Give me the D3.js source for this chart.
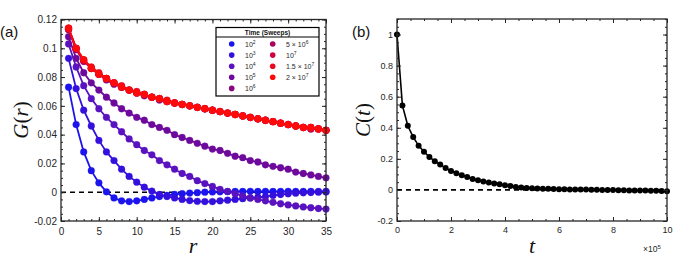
<!DOCTYPE html>
<html>
<head>
<meta charset="utf-8">
<script src="https://cdn.jsdelivr.net/npm/d3@7"></script>
<style>
  body { margin: 0; background: #fff; }
  svg { display: block; }
  .tick text { fill: #262626; font-family: "Liberation Sans", Arial, sans-serif; }
</style>
</head>
<body>
<script>
// ---- data ----
var rVals = [1,2,3,4,5,6,7,8,9,10,11,12,13,14,15,16,17,18,19,20,21,22,23,24,25,26,27,28,29,30,31,32,33,34,35];

var g1e2 = [0.073,0.047,0.028,0.015,0.0065,0.0003,-0.004,-0.006,-0.0065,-0.006,-0.005,-0.004,-0.003,-0.0022,-0.0015,-0.001,-0.0006,-0.0003,0,0.0002,0.0003,0.0004,0.0005,0.0005,0.0006,0.0005,0.0006,0.0005,0.0005,0.0006,0.0005,0.0005,0.0006,0.0005,0.0005];
var g1e3 = [0.093,0.072,0.057,0.046,0.036,0.028,0.022,0.016,0.011,0.007,0.0035,0.0008,-0.0015,-0.003,-0.004,-0.005,-0.0058,-0.0063,-0.0065,-0.0065,-0.006,-0.0055,-0.005,-0.0045,-0.004,-0.0035,-0.003,-0.0022,-0.0016,-0.0011,-0.0007,-0.0004,-0.0002,0,0.0002];
var g1e4 = [0.103,0.087,0.074,0.065,0.058,0.052,0.047,0.042,0.037,0.033,0.029,0.026,0.022,0.019,0.016,0.013,0.011,0.008,0.006,0.004,0.002,0.0005,-0.001,-0.0025,-0.004,-0.005,-0.006,-0.007,-0.008,-0.0088,-0.0095,-0.0102,-0.0108,-0.0113,-0.0117];
var g1e5 = [0.108,0.093,0.083,0.076,0.071,0.066,0.062,0.058,0.055,0.052,0.050,0.047,0.045,0.043,0.040,0.038,0.036,0.034,0.032,0.030,0.029,0.027,0.025,0.024,0.022,0.021,0.019,0.018,0.017,0.016,0.014,0.013,0.012,0.011,0.010];
var g1e6 = [0.113,0.099,0.091,0.086,0.082,0.078,0.075,0.073,0.071,0.069,0.067,0.066,0.064,0.063,0.062,0.061,0.060,0.059,0.058,0.057,0.056,0.055,0.054,0.053,0.052,0.051,0.050,0.049,0.048,0.047,0.046,0.045,0.044,0.044,0.043];
var g5e6 = [0.113,0.100,0.091,0.086,0.082,0.079,0.076,0.073,0.071,0.069,0.068,0.066,0.065,0.063,0.062,0.061,0.060,0.059,0.058,0.057,0.056,0.055,0.054,0.053,0.052,0.051,0.050,0.049,0.048,0.047,0.046,0.045,0.045,0.044,0.043];
var g1e7 = [0.114,0.100,0.092,0.086,0.082,0.079,0.076,0.073,0.071,0.069,0.068,0.066,0.065,0.063,0.062,0.061,0.060,0.059,0.058,0.057,0.056,0.055,0.054,0.053,0.052,0.051,0.050,0.049,0.048,0.047,0.046,0.045,0.044,0.044,0.043];
var g15e7 = [0.114,0.100,0.092,0.087,0.083,0.079,0.076,0.074,0.071,0.070,0.068,0.066,0.065,0.064,0.062,0.061,0.060,0.059,0.058,0.057,0.056,0.055,0.054,0.053,0.052,0.051,0.050,0.049,0.048,0.047,0.046,0.045,0.045,0.044,0.043];
var g2e7 = [0.114,0.100,0.092,0.086,0.082,0.079,0.076,0.073,0.071,0.069,0.068,0.066,0.065,0.063,0.062,0.061,0.060,0.059,0.058,0.057,0.056,0.055,0.054,0.053,0.052,0.051,0.050,0.049,0.048,0.047,0.046,0.045,0.045,0.044,0.043];

// t grid in units of 1e5 sweeps (sampling positions)
var tVals = d3.range(0, 10.001, 0.2);
var cVals = [1,0.544,0.413,0.34,0.285,0.246,0.212,0.184,0.163,0.141,0.122,0.107,0.094,0.083,0.071,0.062,0.054,0.047,0.041,0.036,0.030,0.026,0.019,0.015,0.013,0.011,0.009,0.008,0.007,0.006,0.004,0.004,0.003,0.003,0.002,0.002,0.001,0.001,0,0,-0.001,-0.002,-0.002,-0.003,-0.003,-0.004,-0.004,-0.005,-0.006,-0.007,-0.008];

var leftYTicks = [-0.02,0,0.02,0.04,0.06,0.08,0.1,0.12];
var leftXTicks = [0,5,10,15,20,25,30,35];
var rightYTicks = [-0.2,0,0.2,0.4,0.6,0.8,1];
var rightXTicks = [0,2,4,6,8,10];

var allG = [g1e2,g1e3,g1e4,g1e5,g1e6,g5e6,g1e7,g15e7,g2e7];
var colors = ["#1c14ec","#3510dc","#5a12c0","#6d0a9c","#880880","#a8065e","#cc0440","#e80a1e","#ff0a0a"];

var svg = d3.select("body").append("svg").attr("width", 700).attr("height", 263);

// boxed axes, ticks pointing inward on all four sides
function boxAxes(g, x, y, xt, yt, xMinor, yMinor, fs, xPad, yPad) {
  var x0 = x.range()[0], x1 = x.range()[1], y0 = y.range()[0], y1 = y.range()[1];
  var ink = "#262626";
  var parts = [
    [d3.axisBottom(x).tickValues(xt).tickSizeInner(-4).tickPadding(xPad), "translate(0," + y0 + ")"],
    [d3.axisBottom(x).tickValues(xMinor).tickSizeInner(-2).tickFormat(""), "translate(0," + y0 + ")"],
    [d3.axisTop(x).tickValues(xt).tickSizeInner(-4).tickFormat(""), "translate(0," + y1 + ")"],
    [d3.axisTop(x).tickValues(xMinor).tickSizeInner(-2).tickFormat(""), "translate(0," + y1 + ")"],
    [d3.axisLeft(y).tickValues(yt).tickSizeInner(-4).tickPadding(yPad).tickFormat(function(d) { return String(d); }), "translate(" + x0 + ",0)"],
    [d3.axisLeft(y).tickValues(yMinor).tickSizeInner(-2).tickFormat(""), "translate(" + x0 + ",0)"],
    [d3.axisRight(y).tickValues(yt).tickSizeInner(-4).tickFormat(""), "translate(" + x1 + ",0)"],
    [d3.axisRight(y).tickValues(yMinor).tickSizeInner(-2).tickFormat(""), "translate(" + x1 + ",0)"]
  ];
  parts.forEach(function(p) {
    var a = g.append("g").attr("transform", p[1]).call(p[0].tickSizeOuter(0));
    a.select(".domain").remove();
    a.selectAll("line").attr("stroke", ink).attr("stroke-width", 1);
    a.selectAll("text").attr("font-size", fs).attr("fill", ink);
  });
  g.append("rect").attr("x", x0).attr("y", y1).attr("width", x1 - x0).attr("height", y0 - y1)
    .attr("fill", "none").attr("stroke", ink).attr("stroke-width", 1.3);
}

// ---------------- panel (a) ----------------
var xa = d3.scaleLinear().domain([0, 35]).range([61, 326]);
var ya = d3.scaleLinear().domain([-0.02, 0.12]).range([221, 19.5]);
var ga = svg.append("g");

ga.append("line").attr("x1", xa(0)).attr("x2", xa(35)).attr("y1", ya(0)).attr("y2", ya(0))
  .attr("stroke", "#000").attr("stroke-width", 1.6).attr("stroke-dasharray", "5,4");

var lineA = d3.line().x(function(d, i) { return xa(rVals[i]); }).y(function(d) { return ya(d); });

allG.forEach(function(s, k) {
  ga.append("path").attr("d", lineA(s)).attr("fill", "none")
    .attr("stroke", colors[k]).attr("stroke-width", 1.8);
  ga.selectAll(null).data(s).enter().append("circle")
    .attr("cx", function(d, i) { return xa(rVals[i]); })
    .attr("cy", function(d) { return ya(d); })
    .attr("r", 3.4).attr("fill", colors[k]).attr("stroke", colors[k])
    .attr("stroke-opacity", 0.4).attr("stroke-width", 0.8);
});

boxAxes(ga, xa, ya, leftXTicks, leftYTicks,
  d3.range(0, 35.01, 1), d3.range(-0.02, 0.1201, 0.005).map(function(v) { return +v.toFixed(3); }),
  10, 7, 4);

// legend
var lg = ga.append("g");
lg.append("rect").attr("x", 216).attr("y", 27.5).attr("width", 103).attr("height", 68.5)
  .attr("fill", "#fff").attr("stroke", "#000").attr("stroke-width", 1.2);
lg.append("line").attr("x1", 216).attr("x2", 319).attr("y1", 37).attr("y2", 37)
  .attr("stroke", "#000").attr("stroke-width", 1.2);
lg.append("text").attr("x", 267.5).attr("y", 34.8).attr("text-anchor", "middle")
  .attr("font-family", "Liberation Sans, Arial, sans-serif").attr("font-size", 6.5).attr("font-weight", "bold")
  .attr("fill", "#111").text("Time (Sweeps)");

var legendLabels = [["", "10", "2"], ["", "10", "3"], ["", "10", "4"], ["", "10", "5"], ["", "10", "6"],
                    ["5 \u00d7 ", "10", "6"], ["", "10", "7"], ["1.5 \u00d7 ", "10", "7"], ["2 \u00d7 ", "10", "7"]];
legendLabels.forEach(function(lab, k) {
  var col = k < 5 ? 0 : 1, row = k < 5 ? k : k - 5;
  var cx = col === 0 ? 231.7 : 272.7, tx = col === 0 ? 245 : 286;
  var cy = 44 + row * 11.1;
  lg.append("circle").attr("cx", cx).attr("cy", cy).attr("r", 2.8).attr("fill", colors[k]);
  var t = lg.append("text").attr("x", tx).attr("y", cy + 2.6)
    .attr("font-family", "Liberation Sans, Arial, sans-serif").attr("font-size", 7).attr("fill", "#262626");
  t.append("tspan").text(lab[0] + lab[1]);
  t.append("tspan").attr("dy", -3).attr("font-size", 5).text(lab[2]);
});

// labels (a)
svg.append("text").attr("x", 0).attr("y", 37).attr("font-family", "Liberation Sans, Arial, sans-serif")
  .attr("font-size", 15).attr("fill", "#111").text("(a)");
var gl = svg.append("text").attr("transform", "translate(28,120) rotate(-90)").attr("text-anchor", "middle")
  .attr("font-family", "Liberation Serif, Times New Roman, serif").attr("font-size", 21).attr("fill", "#111");
gl.append("tspan").attr("font-style", "italic").text("G");
gl.append("tspan").text("(");
gl.append("tspan").attr("font-style", "italic").text("r");
gl.append("tspan").text(")");
svg.append("text").attr("x", 193).attr("y", 253).attr("text-anchor", "middle")
  .attr("font-family", "Liberation Serif, Times New Roman, serif").attr("font-style", "italic")
  .attr("font-size", 22).attr("fill", "#111").text("r");

// ---------------- panel (b) ----------------
var xb = d3.scaleLinear().domain([0, 10]).range([397, 667]);
var yb = d3.scaleLinear().domain([-0.2, 1.1]).range([221, 19]);
var gb = svg.append("g");

gb.append("line").attr("x1", xb(0)).attr("x2", xb(10)).attr("y1", yb(0)).attr("y2", yb(0))
  .attr("stroke", "#000").attr("stroke-width", 1.6).attr("stroke-dasharray", "5,4");

var lineB = d3.line().x(function(d, i) { return xb(tVals[i]); }).y(function(d) { return yb(d); });
gb.append("path").attr("d", lineB(cVals)).attr("fill", "none").attr("stroke", "#000").attr("stroke-width", 1.6);
gb.selectAll(null).data(cVals).enter().append("circle")
  .attr("cx", function(d, i) { return xb(tVals[i]); })
  .attr("cy", function(d) { return yb(d); })
  .attr("r", 3).attr("fill", "#000");

boxAxes(gb, xb, yb, rightXTicks, rightYTicks,
  d3.range(0, 10.01, 0.5), d3.range(-0.2, 1.101, 0.05).map(function(v) { return +v.toFixed(2); }),
  9, 6, 4);

svg.append("text").attr("x", 352).attr("y", 37).attr("font-family", "Liberation Sans, Arial, sans-serif")
  .attr("font-size", 15).attr("fill", "#111").text("(b)");
var cl = svg.append("text").attr("transform", "translate(370,120) rotate(-90)").attr("text-anchor", "middle")
  .attr("font-family", "Liberation Serif, Times New Roman, serif").attr("font-size", 21).attr("fill", "#111");
cl.append("tspan").attr("font-style", "italic").text("C");
cl.append("tspan").text("(");
cl.append("tspan").attr("font-style", "italic").text("t");
cl.append("tspan").text(")");
svg.append("text").attr("x", 532).attr("y", 253).attr("text-anchor", "middle")
  .attr("font-family", "Liberation Serif, Times New Roman, serif").attr("font-style", "italic")
  .attr("font-size", 22).attr("fill", "#111").text("t");
var ex = svg.append("text").attr("x", 643).attr("y", 252)
  .attr("font-family", "Liberation Sans, Arial, sans-serif").attr("font-size", 8.5).attr("fill", "#262626");
ex.append("tspan").text("\u00d710");
ex.append("tspan").attr("dy", -3.5).attr("font-size", 6).text("5");
</script>
</body>
</html>
